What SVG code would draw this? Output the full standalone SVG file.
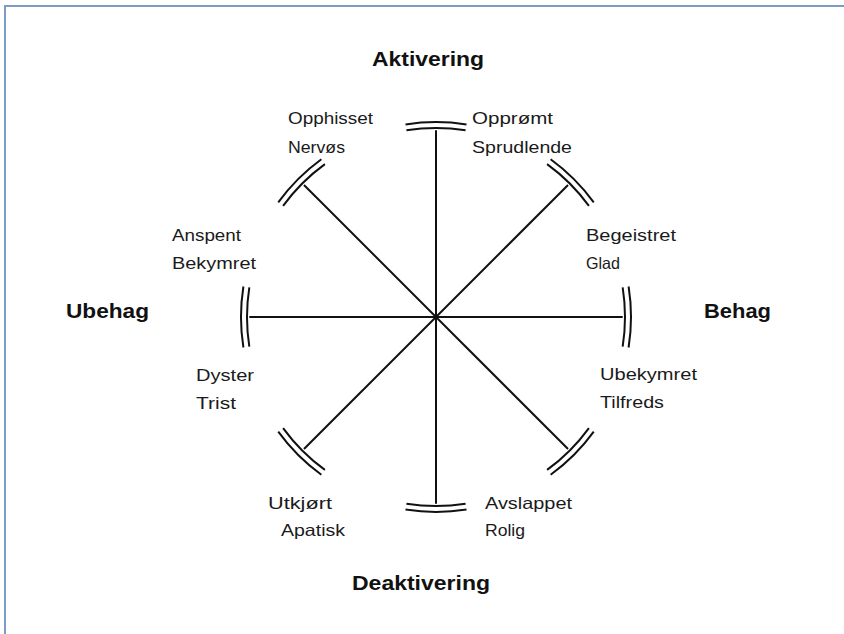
<svg xmlns="http://www.w3.org/2000/svg" width="844" height="634" viewBox="0 0 844 634">
<style>
.lbl{font-family:"Liberation Sans",Arial,sans-serif;font-size:16.5px;fill:#1a1a1a}
.ax{font-family:"Liberation Sans",Arial,sans-serif;font-size:20px;font-weight:bold;fill:#111}
.sp{stroke:#111;stroke-width:2;fill:none}
.border{stroke:#7b9cc4;stroke-width:2;fill:none}
</style>
<defs>
<g id="spoke">
<line class="sp" x1="436" y1="317" x2="622.7" y2="317"/>
<path class="sp" d="M622.67,287.43 A189,189 0 0,1 622.67,346.57"/>
<path class="sp" d="M628.6,286.5 A195,195 0 0,1 628.6,347.5"/>
</g>
</defs>
<rect width="844" height="634" fill="#fff"/>
<path class="border" d="M5,634 V6 H844"/>
<g id="connectors">
<use href="#spoke" transform="rotate(0 436 317)"/>
<use href="#spoke" transform="rotate(45 436 317)"/>
<use href="#spoke" transform="rotate(90 436 317)"/>
<use href="#spoke" transform="rotate(135 436 317)"/>
<use href="#spoke" transform="rotate(180 436 317)"/>
<use href="#spoke" transform="rotate(225 436 317)"/>
<use href="#spoke" transform="rotate(270 436 317)"/>
<use href="#spoke" transform="rotate(315 436 317)"/>
</g>
<g id="axis-aktivering"><text class="ax" x="372" y="66" textLength="112" lengthAdjust="spacingAndGlyphs">Aktivering</text></g>
<g id="axis-deaktivering"><text class="ax" x="352" y="590" textLength="138" lengthAdjust="spacingAndGlyphs">Deaktivering</text></g>
<g id="axis-ubehag"><text class="ax" x="66" y="318" textLength="83" lengthAdjust="spacingAndGlyphs">Ubehag</text></g>
<g id="axis-behag"><text class="ax" x="704" y="318" textLength="67" lengthAdjust="spacingAndGlyphs">Behag</text></g>
<g id="n-opphisset">
<text class="lbl" x="288" y="124" textLength="85" lengthAdjust="spacingAndGlyphs">Opphisset</text>
<text class="lbl" x="288" y="153" textLength="57" lengthAdjust="spacingAndGlyphs">Nervøs</text>
</g>
<g id="n-opprømt">
<text class="lbl" x="472" y="124" textLength="81" lengthAdjust="spacingAndGlyphs">Opprømt</text>
<text class="lbl" x="472" y="153" textLength="100" lengthAdjust="spacingAndGlyphs">Sprudlende</text>
</g>
<g id="n-begeistret">
<text class="lbl" x="586" y="241" textLength="90" lengthAdjust="spacingAndGlyphs">Begeistret</text>
<text class="lbl" x="586" y="269" textLength="34" lengthAdjust="spacingAndGlyphs">Glad</text>
</g>
<g id="n-ubekymret">
<text class="lbl" x="600" y="380" textLength="97" lengthAdjust="spacingAndGlyphs">Ubekymret</text>
<text class="lbl" x="600" y="408" textLength="64" lengthAdjust="spacingAndGlyphs">Tilfreds</text>
</g>
<g id="n-avslappet">
<text class="lbl" x="485" y="509" textLength="87" lengthAdjust="spacingAndGlyphs">Avslappet</text>
<text class="lbl" x="485" y="536" textLength="40" lengthAdjust="spacingAndGlyphs">Rolig</text>
</g>
<g id="n-utkjørt">
<text class="lbl" x="268" y="509" textLength="64" lengthAdjust="spacingAndGlyphs">Utkjørt</text>
<text class="lbl" x="281" y="536" textLength="64" lengthAdjust="spacingAndGlyphs">Apatisk</text>
</g>
<g id="n-dyster">
<text class="lbl" x="196" y="381" textLength="58" lengthAdjust="spacingAndGlyphs">Dyster</text>
<text class="lbl" x="196" y="409" textLength="40" lengthAdjust="spacingAndGlyphs">Trist</text>
</g>
<g id="n-anspent">
<text class="lbl" x="172" y="241" textLength="69" lengthAdjust="spacingAndGlyphs">Anspent</text>
<text class="lbl" x="172" y="269" textLength="84" lengthAdjust="spacingAndGlyphs">Bekymret</text>
</g>
</svg>
